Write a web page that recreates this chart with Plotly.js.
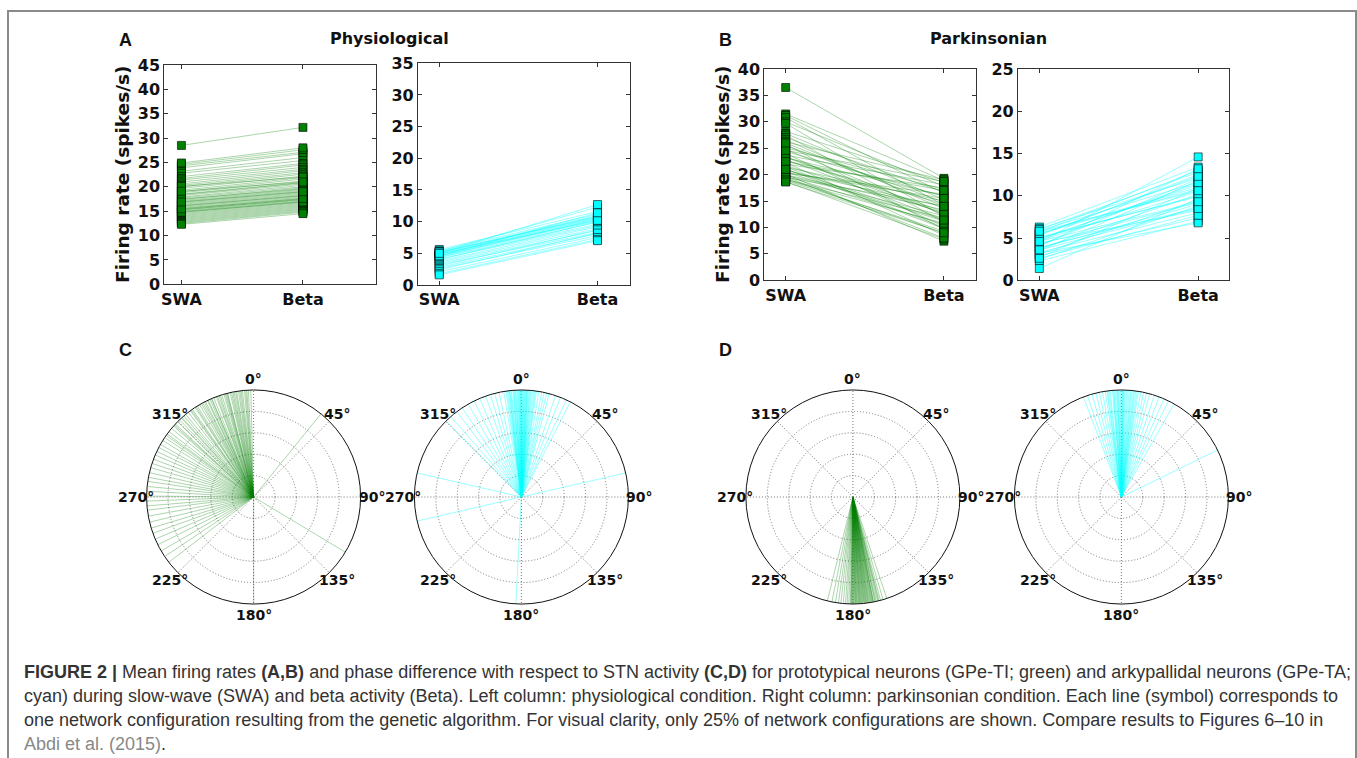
<!DOCTYPE html>
<html><head><meta charset="utf-8">
<script src="https://cdn.plot.ly/plotly-3.0.1.min.js"></script>
<style>html,body{margin:0;padding:0;background:#fff;} #chart{width:1357px;height:758px;}</style>
</head><body><div id="chart"></div>
<script>
// ---------- data ----------
const conditions = ['SWA', 'Beta'];

// Panel A (physiological) - GPe-TI (green): firing rates per network configuration
const physTI_SWA  = [28.5, 24.6, 24.3, 23.9, 23.2, 22.8, 22.1, 21.7, 21.4, 21.0, 20.6, 20.3, 20.0, 19.7, 19.3, 19.0, 18.8, 18.5, 18.2, 17.9, 17.7, 17.4, 17.2, 17.0, 16.8, 16.6, 16.4, 16.2, 16.0, 15.8, 15.6, 15.4, 15.2, 15.0, 14.9, 14.7, 14.5, 14.3, 14.1, 13.9, 13.7, 13.5, 13.3, 13.1, 12.9, 12.7, 12.5, 12.3, 17.5, 16.1, 15.3, 18.4, 14.8, 20.1, 19.1, 24.9, 15.5, 16.9];
const physTI_Beta = [32.2, 27.6, 27.1, 26.8, 26.0, 25.4, 24.8, 24.5, 24.0, 23.6, 23.3, 22.9, 22.6, 22.2, 21.9, 21.6, 21.2, 20.9, 20.6, 20.3, 20.0, 19.8, 19.5, 19.3, 19.1, 18.9, 18.7, 18.5, 18.3, 18.1, 17.9, 17.7, 17.5, 17.3, 17.1, 17.0, 16.8, 16.6, 16.4, 16.2, 16.0, 15.8, 15.6, 15.4, 15.2, 15.0, 14.8, 14.5, 19.6, 18.2, 17.4, 20.8, 16.9, 22.0, 21.0, 28.0, 17.6, 19.0];
// Panel A - GPe-TA (cyan)
const physTA_SWA  = [5.6, 5.4, 5.3, 5.2, 5.1, 5.0, 4.9, 4.8, 4.7, 4.6, 4.5, 4.4, 4.3, 4.1, 4.0, 3.8, 3.6, 3.4, 3.2, 3.0, 2.8, 2.6, 2.4, 2.1, 1.8, 1.6, 5.2, 4.9, 4.6, 5.0];
const physTA_Beta = [11.6, 11.2, 12.3, 11.0, 10.8, 10.9, 10.6, 10.5, 10.3, 10.1, 10.4, 9.9, 9.6, 9.4, 10.0, 9.2, 8.9, 8.6, 8.3, 8.7, 8.1, 7.8, 8.2, 7.5, 7.2, 7.0, 10.7, 10.2, 11.4, 12.7];
// Panel B (parkinsonian) - GPe-TI (green)
const pdTI_SWA  = [36.5, 31.5, 31.2, 30.8, 30.0, 29.7, 28.2, 27.8, 27.5, 27.0, 26.6, 26.2, 25.8, 25.5, 25.1, 24.8, 24.4, 24.0, 23.7, 23.4, 23.2, 22.9, 22.6, 22.3, 22.0, 21.7, 21.4, 21.1, 20.8, 20.5, 20.3, 20.1, 19.9, 19.7, 19.5, 19.3, 19.1, 18.9, 18.7, 20.0, 21.5, 23.3, 22.5, 20.4, 19.6, 24.6, 26.0, 19.0, 18.6, 21.0];
const pdTI_Beta = [19.3, 18.9, 16.5, 14.2, 17.8, 12.0, 18.5, 15.3, 11.0, 16.7, 13.5, 19.0, 9.6, 14.8, 17.2, 12.4, 15.9, 10.2, 18.1, 13.0, 16.0, 11.5, 14.5, 8.5, 17.5, 12.8, 15.0, 9.8, 13.9, 11.2, 16.3, 7.4, 12.2, 10.6, 14.1, 8.9, 11.8, 9.3, 7.8, 13.3, 10.0, 12.6, 17.0, 15.5, 8.0, 18.7, 14.0, 10.8, 9.0, 11.4];
// Panel B - GPe-TA (cyan)
const pdTA_SWA  = [6.3, 6.1, 5.9, 5.7, 5.5, 5.3, 5.1, 4.9, 4.7, 4.5, 4.3, 4.1, 3.9, 3.7, 3.5, 3.3, 3.1, 2.9, 2.7, 2.5, 2.3, 1.4, 6.0, 5.6, 5.0, 4.4, 3.8, 3.2, 2.6, 4.8, 5.4, 4.0, 3.6, 5.8, 4.6];
const pdTA_Beta = [13.4, 12.1, 11.6, 13.0, 10.8, 12.5, 9.9, 11.3, 10.5, 14.6, 9.2, 12.0, 8.6, 10.2, 11.8, 8.0, 9.5, 7.4, 10.9, 8.8, 7.0, 9.7, 12.8, 11.0, 10.0, 8.3, 9.0, 6.8, 7.7, 11.5, 12.3, 13.2, 8.5, 10.6, 9.3];

// Panels C, D: phase difference with respect to STN (degrees)
const physTI_phase = [358.5, 357.2, 355.8, 355.1, 354.0, 352.6, 351.9, 350.3, 349.5, 348.1, 347.4, 346.0, 345.2, 343.9, 342.7, 341.8, 340.2, 339.6, 338.1, 337.0, 335.9, 334.4, 333.2, 332.5, 330.8, 329.7, 328.3, 326.9, 325.1, 323.8, 322.4, 320.6, 319.3, 317.5, 316.2, 314.8, 313.0, 311.6, 309.9, 307.7, 306.1, 303.8, 301.9, 299.4, 297.6, 295.2, 293.1, 290.7, 288.3, 285.9, 283.2, 280.6, 278.4, 275.7, 273.1, 270.5, 267.8, 265.2, 262.9, 259.7, 256.4, 253.1, 250.2, 246.8, 243.5, 239.7, 236.2, 232.4, 39.0, 121.0, 180.0, 353.3, 348.8, 344.6, 336.7, 327.5, 356.4, 350.9, 345.7, 341.1, 334.9, 331.6, 324.4, 318.1, 312.3, 305.2];
const physTA_phase = [0.5, 359.2, 1.8, 358.1, 3.0, 356.8, 4.2, 355.5, 5.6, 354.3, 6.9, 353.0, 8.1, 351.7, 9.4, 350.5, 2.4, 357.6, 0.0, 1.1, 358.8, 3.7, 356.1, 5.0, 353.8, 7.5, 352.4, 2.9, 359.7, 347.9, 345.6, 343.2, 340.5, 337.1, 333.8, 330.2, 326.4, 322.9, 318.7, 315.2, 12.3, 15.1, 18.6, 21.4, 24.8, 27.3, 77.0, 257.0, 283.0, 183.0, 11.0, 13.7, 0.8, 359.5, 1.4, 358.4, 2.2, 357.0, 3.3, 355.9, 4.6, 354.7, 6.2, 353.5];
const pdTI_phase = [161.5, 163.6, 165.0, 165.8, 166.7, 167.4, 168.2, 169.0, 169.6, 170.3, 171.1, 171.8, 172.5, 173.1, 173.8, 174.4, 175.0, 175.7, 176.3, 176.9, 177.6, 178.2, 178.8, 179.5, 180.1, 180.8, 181.4, 182.2, 183.1, 184.0, 185.2, 186.5, 187.8, 189.4, 191.3, 193.8, 168.9, 171.5, 174.0, 176.6, 179.0, 166.2, 170.7, 173.4, 177.2, 181.0, 167.9, 172.8, 175.4, 178.5, 169.3, 172.1, 174.7, 177.9, 180.4, 170.0, 176.0, 179.8];
const pdTA_phase = [0.3, 359.1, 1.6, 357.9, 2.8, 356.6, 4.1, 355.2, 5.3, 354.0, 6.6, 352.7, 7.8, 351.3, 9.2, 349.8, 10.5, 348.1, 12.0, 346.2, 13.6, 344.0, 15.4, 341.5, 17.9, 339.2, 20.6, 23.4, 26.1, 29.5, 64.0, 0.9, 358.5, 3.4, 356.0, 5.9, 353.4, 8.5, 2.1, 357.3, 0.6, 359.6, 1.2, 358.0, 4.8, 355.7, 7.1, 352.2];

const angleTicks  = [0, 45, 90, 135, 180, 225, 270, 315];
const angleLabels = ['0°', '45°', '90°', '135°', '180°', '225°', '270°', '315°'];

// ---------- drawing ----------
const W = 1357, H = 758;
const px = v => v / W;
const py = v => 1 - v / H;

const GREEN = 'rgb(0,128,0)', CYAN = 'rgb(0,255,255)';
const GREEN_LINE = 'rgba(0,128,0,0.33)', CYAN_LINE = 'rgba(0,255,255,0.4)';

const traces = [];
function addPairs(swa, beta, xa, ya, lineCol, fill) {
  for (let i = 0; i < swa.length; i++) {
    traces.push({type: 'scatter', mode: 'lines', x: [conditions[0], conditions[1]], y: [swa[i], beta[i]],
      xaxis: xa, yaxis: ya, line: {color: lineCol, width: 1}, hoverinfo: 'skip', showlegend: false});
  }
  traces.push({type: 'scatter', mode: 'markers',
    x: swa.map(() => conditions[0]).concat(beta.map(() => conditions[1])),
    y: swa.concat(beta), xaxis: xa, yaxis: ya, showlegend: false, hoverinfo: 'skip',
    marker: {symbol: 'square', size: 8, color: fill, line: {color: 'rgba(0,0,0,0.75)', width: 0.8}}});
}
addPairs(physTI_SWA, physTI_Beta, 'x', 'y', GREEN_LINE, GREEN);
addPairs(physTA_SWA, physTA_Beta, 'x2', 'y2', CYAN_LINE, CYAN);
addPairs(pdTI_SWA, pdTI_Beta, 'x3', 'y3', GREEN_LINE, GREEN);
addPairs(pdTA_SWA, pdTA_Beta, 'x4', 'y4', CYAN_LINE, CYAN);

function addRays(angles, subplot, col) {
  angles.forEach(a => traces.push({type: 'scatterpolar', mode: 'lines', r: [0, 1], theta: [a, a],
    subplot: subplot, line: {color: col, width: 1}, hoverinfo: 'skip', showlegend: false}));
}
addRays(physTI_phase, 'polar', 'rgba(0,128,0,0.33)');
addRays(physTA_phase, 'polar2', 'rgba(0,255,255,0.4)');
addRays(pdTI_phase, 'polar3', 'rgba(0,128,0,0.33)');
addRays(pdTA_phase, 'polar4', 'rgba(0,255,255,0.4)');

const tickFont = {family: 'DejaVu Sans', size: 16, weight: 'bold', color: '#111'};
const polarFont = {family: 'DejaVu Sans', size: 14, weight: 'bold', color: '#111'};
const axisBase = {showline: true, linecolor: '#333', linewidth: 1, mirror: 'allticks', ticks: 'inside',
  ticklen: 4, tickcolor: '#333', showgrid: false, zeroline: false, tickfont: tickFont, fixedrange: true};
function xax(x0, x1, anchor, range) {
  return Object.assign({}, axisBase, {type: 'category', categoryorder: 'array', categoryarray: conditions,
    domain: [px(x0), px(x1)], anchor: anchor, range: range});
}
function yax(top, bottom, anchor, ymax) {
  return Object.assign({}, axisBase, {domain: [py(bottom), py(top)], anchor: anchor, range: [0, ymax], tick0: 0, dtick: 5});
}
const GRID = '#777', GRIDDASH = '1px,2px';
const PR = 107, PCY = 497;
function polarAx(cx) {
  return {domain: {x: [px(cx - PR), px(cx + PR)], y: [py(PCY + PR), py(PCY - PR)]}, bgcolor: '#fff',
    angularaxis: {rotation: 90, direction: 'clockwise', tickmode: 'array', tickvals: angleTicks,
      showticklabels: false, showline: true, linecolor: '#111', linewidth: 1, ticks: '', showgrid: true,
      gridcolor: GRID, gridwidth: 1, griddash: GRIDDASH},
    radialaxis: {range: [0, 1], tickmode: 'array', tickvals: [0.2, 0.4, 0.6, 0.8], showticklabels: false, ticks: '',
      showline: false, gridcolor: GRID, gridwidth: 1, griddash: GRIDDASH}};
}

function ann(text, x, y, font, extra) {
  return Object.assign({text: text, x: px(x), y: py(y), xref: 'paper', yref: 'paper', showarrow: false,
    xanchor: 'center', yanchor: 'middle', font: font}, extra || {});
}
const letterFont = {family: 'Liberation Sans', size: 18, weight: 'bold', color: '#111'};
const titleFont = {family: 'DejaVu Sans', size: 16, weight: 'bold', color: '#111'};
const ylabFont = {family: 'DejaVu Sans', size: 18.5, weight: 'bold', color: '#111'};
const capFont = {family: 'Liberation Sans', size: 18, color: '#333'};

const annotations = [
  ann('A', 125, 40, letterFont), ann('B', 725, 40, letterFont),
  ann('C', 125, 350, letterFont), ann('D', 725, 350, letterFont),
  ann('Physiological', 389, 38, titleFont), ann('Parkinsonian', 989, 38, titleFont),
  ann('Firing rate (spikes/s)', 123, 175, ylabFont, {textangle: -90}),
  ann('Firing rate (spikes/s)', 723, 175, ylabFont, {textangle: -90}),
  ann('<b>FIGURE 2 |</b> Mean firing rates <b>(A,B)</b> and phase difference with respect to STN activity <b>(C,D)</b> for prototypical neurons (GPe-TI; green) and arkypallidal neurons (GPe-TA;', 22, 672, capFont, {xanchor: 'left'}),
  ann('cyan) during slow-wave (SWA) and beta activity (Beta). Left column: physiological condition. Right column: parkinsonian condition. Each line (symbol) corresponds to', 22, 696, capFont, {xanchor: 'left'}),
  ann('one network configuration resulting from the genetic algorithm. For visual clarity, only 25% of network configurations are shown. Compare results to Figures 6–10 in', 22, 720, capFont, {xanchor: 'left'}),
  ann('<span style="color:#888">Abdi et al. (2015)</span>.', 22, 744, capFont, {xanchor: 'left'})
];
// angular tick labels for each polar panel, placed just outside the circle (matplotlib style)
const polarCenters = [253.6, 521.4, 852.9, 1121.4];
polarCenters.forEach(cx => {
  angleTicks.forEach((a, i) => {
    const t = a * Math.PI / 180;
    annotations.push(ann(angleLabels[i], cx + 118 * Math.sin(t), PCY - 118 * Math.cos(t), polarFont));
  });
});

const layout = {
  width: W, height: H, margin: {l: 0, r: 0, t: 0, b: 0}, paper_bgcolor: '#fff', plot_bgcolor: '#fff',
  showlegend: false,
  xaxis: xax(164.3, 376.1, 'y', [-0.141, 1.602]),  yaxis: yax(65, 284.3, 'x', 45),
  xaxis2: xax(417.9, 629.6, 'y2', [-0.135, 1.203]), yaxis2: yax(63.3, 285, 'x2', 35),
  xaxis3: xax(764.3, 975.7, 'y3', [-0.135, 1.201]), yaxis3: yax(69, 280.3, 'x3', 40),
  xaxis4: xax(1017.9, 1229.3, 'y4', [-0.135, 1.196]), yaxis4: yax(69, 280.3, 'x4', 25),
  polar: polarAx(polarCenters[0]), polar2: polarAx(polarCenters[1]),
  polar3: polarAx(polarCenters[2]), polar4: polarAx(polarCenters[3]),
  annotations: annotations,
  shapes: [{type: 'rect', xref: 'paper', yref: 'paper', x0: px(8), x1: px(1356), y0: py(800), y1: py(11),
    line: {color: '#8a8a8a', width: 2}, fillcolor: 'rgba(0,0,0,0)'}]
};
Plotly.newPlot('chart', traces, layout, {staticPlot: true, displayModeBar: false});
</script></body></html>
